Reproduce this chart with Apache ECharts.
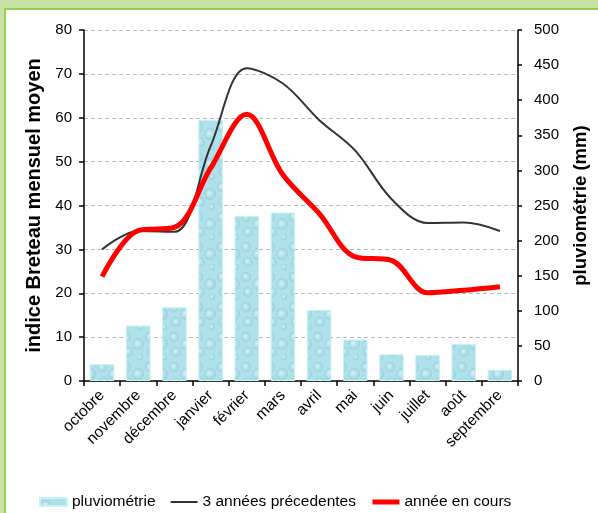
<!DOCTYPE html>
<html>
<head>
<meta charset="utf-8">
<script src="https://cdn.jsdelivr.net/npm/echarts@6/dist/echarts.min.js"></script>
<style>
  html, body { margin: 0; padding: 0; }
  body { width: 598px; height: 513px; background: #c8e2a6; position: relative; overflow: hidden; }
  #frame { position: absolute; left: 4px; top: 8px; width: 620px; height: 540px; background: #fff; border: 2px solid #92d050; }
  #chart { position: absolute; left: 0; top: 0; width: 598px; height: 513px; }
</style>
</head>
<body>
<div id="frame"></div>
<div id="chart"></div>
<script>
// mois (octobre -> septembre)
var categories = ["octobre", "novembre", "décembre", "janvier", "février", "mars", "avril", "mai", "juin", "juillet", "août", "septembre"];
// pluviométrie en mm (axe de droite)
var pluviometrie = [24, 79, 105, 372, 235, 240, 101, 59, 38, 37, 53, 16];
// indice Breteau (axe de gauche)
var troisAnnees = [30, 34.2, 34, 53.5, 71.3, 67.8, 59.5, 52.5, 41.5, 36, 36.1, 34.2];
var anneeEnCours = [23.8, 34.3, 35, 48.5, 60.8, 47, 38.2, 28.3, 27.5, 20.1, 20.7, 21.5];
var leftTicks = { min: 0, max: 80, interval: 10 };
var rightTicks = { min: 0, max: 500, interval: 50 };

// petite texture "gouttes d'eau" pour les barres
function makePattern() {
  var c = document.createElement("canvas");
  c.width = 24; c.height = 30;
  var ctx = c.getContext("2d");
  ctx.fillStyle = "#afe1ea";
  ctx.fillRect(0, 0, 24, 30);
  var drops = [[6, 7, 5], [18, 14, 6], [8, 22, 5], [20, 27, 3]];
  drops.forEach(function (d) {
    var g = ctx.createRadialGradient(d[0] - 1, d[1] - 1, 0, d[0], d[1], d[2]);
    g.addColorStop(0, "#d6f3f7");
    g.addColorStop(1, "#98d0dc");
    ctx.fillStyle = g;
    ctx.beginPath();
    ctx.arc(d[0], d[1], d[2], 0, Math.PI * 2);
    ctx.fill();
  });
  return c;
}

var myChart = echarts.init(document.getElementById("chart"), null, { renderer: "canvas" });
var font = "Liberation Sans, Arial, sans-serif";

myChart.setOption({
  backgroundColor: "transparent",
  textStyle: { fontFamily: font },
  grid: { left: 84, right: 75, top: 30, bottom: 132 },
  legend: {
    left: 34,
    top: 489,
    itemWidth: 27,
    itemHeight: 8,
    itemGap: 14,
    textStyle: { fontSize: 15.5, color: "#000", fontFamily: font },
    data: [
      { name: "pluviométrie", icon: "rect" },
      { name: "3 années précedentes", itemStyle: { opacity: 0 }, lineStyle: { width: 2, color: "#333" } },
      { name: "année en cours", itemStyle: { opacity: 0 }, lineStyle: { width: 5, color: "#ff0000" } }
    ]
  },
  xAxis: {
    type: "category",
    data: categories,
    axisLine: { lineStyle: { color: "#000", width: 1.5 } },
    axisTick: { show: true, length: 5, lineStyle: { color: "#000", width: 1.5 } },
    axisLabel: { rotate: 45, margin: 12, fontSize: 15.5, color: "#000", interval: 0 },
    splitLine: { show: false }
  },
  yAxis: [
    {
      type: "value",
      min: leftTicks.min,
      max: leftTicks.max,
      interval: leftTicks.interval,
      name: "indice Breteau mensuel moyen",
      nameLocation: "middle",
      nameGap: 40,
      nameTextStyle: { fontSize: 20, fontWeight: "bold", color: "#000", fontFamily: font },
      axisLine: { show: true, lineStyle: { color: "#000", width: 1.5 } },
      axisTick: { show: true, length: 5, lineStyle: { color: "#000", width: 1.5 } },
      axisLabel: { fontSize: 15, color: "#000", margin: 12 },
      splitLine: { show: true, lineStyle: { color: "#b8b8b8", type: [4, 3], width: 1 } }
    },
    {
      type: "value",
      position: "right",
      min: rightTicks.min,
      max: rightTicks.max,
      interval: rightTicks.interval,
      name: "pluviométrie (mm)",
      nameLocation: "middle",
      nameGap: 53,
      nameTextStyle: { fontSize: 18.5, fontWeight: "bold", color: "#000", fontFamily: font },
      axisLine: { show: true, lineStyle: { color: "#000", width: 1.5 } },
      axisTick: { show: true, length: 4, lineStyle: { color: "#000", width: 1.5 } },
      axisLabel: { fontSize: 15, color: "#000", margin: 16 },
      splitLine: { show: false }
    }
  ],
  series: [
    {
      name: "pluviométrie",
      type: "bar",
      yAxisIndex: 1,
      barCategoryGap: "32%",
      itemStyle: {
        color: { image: makePattern(), repeat: "repeat" },
        borderColor: "#c6f3f8",
        borderWidth: 1
      },
      data: pluviometrie,
      z: 1
    },
    {
      name: "3 années précedentes",
      type: "line",
      yAxisIndex: 0,
      smooth: 0.35,
      symbol: "none",
      lineStyle: { color: "#333", width: 2 },
      itemStyle: { color: "#333" },
      data: troisAnnees,
      z: 3
    },
    {
      name: "année en cours",
      type: "line",
      yAxisIndex: 0,
      smooth: 0.35,
      symbol: "none",
      lineStyle: { color: "#ff0000", width: 5 },
      itemStyle: { color: "#ff0000" },
      data: anneeEnCours,
      z: 4
    }
  ]
});
</script>
</body>
</html>
